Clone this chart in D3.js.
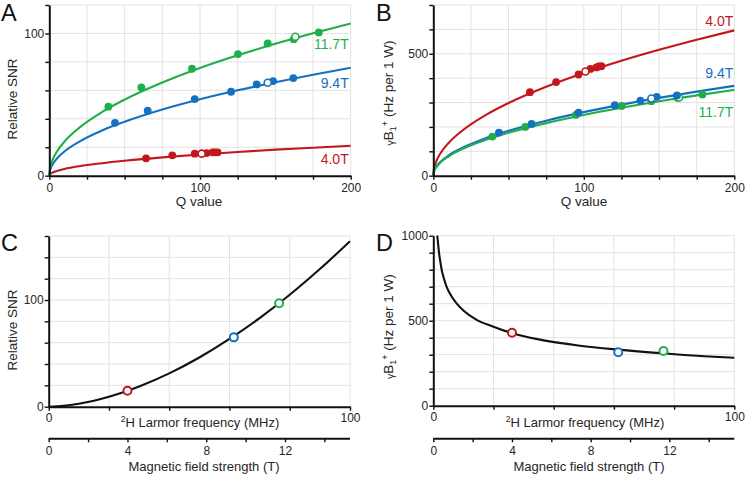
<!DOCTYPE html>
<html><head><meta charset="utf-8">
<script src="https://cdn.jsdelivr.net/npm/d3@7"></script>
<style>body{margin:0;background:#fff;overflow:hidden}</style>
</head><body><script>
// ---------------- DATA ----------------
const seriesNames = ["4.0T", "9.4T", "11.7T"];
const colors = { "4.0T": "#c4161c", "9.4T": "#1670c2", "11.7T": "#1fae4a" };

// Fit curves, panels A and B (Q value grid)
const qGrid = [0, 0.5, 1, 2, 5, 10, 20, 35, 50, 75, 100, 125, 150, 175, 200];
const snrFit40  = [0, 1.05, 1.5, 2.1, 3.3, 4.7, 6.7, 8.8, 10.5, 12.9, 14.9, 16.7, 18.3, 19.7, 21.1];
const snrFit94  = [0, 3.8, 5.4, 7.6, 12.0, 17.0, 24.0, 31.8, 37.9, 46.5, 53.7, 60.0, 65.7, 71.0, 75.9];
const snrFit117 = [0, 5.35, 7.6, 10.7, 16.9, 23.9, 33.8, 44.8, 53.5, 65.5, 75.7, 84.6, 92.7, 100.1, 107.0];
const b1Fit40  = [0, 29.8, 42.1, 59.6, 94.2, 133.3, 188.5, 249.3, 298.0, 364.9, 421.4, 471.1, 516.1, 557.5, 596.0];
const b1Fit94  = [0, 18.4, 26.1, 36.9, 58.3, 82.4, 116.5, 154.2, 184.3, 225.7, 260.6, 291.4, 319.2, 344.7, 368.5];
const b1Fit117 = [0, 17.6, 24.9, 35.2, 55.7, 78.7, 111.4, 147.3, 176.1, 215.6, 249.0, 278.4, 305.0, 329.4, 352.1];

// Measured points (filled)
const qPts40  = [64.2, 81.6, 96.5, 104.4, 108.4, 110.0, 111.7];
const snrPts40 = [12.2, 14.3, 15.5, 15.9, 16.4, 16.4, 16.4];
const b1Pts40  = [342.5, 384, 415, 438, 444, 448, 449];
const qPts94  = [43.6, 65.3, 96.5, 120.6, 137.6, 148.5, 161.9];
const snrPts94 = [37.2, 45.7, 53.9, 59.0, 64.2, 66.5, 68.6];
const b1Pts94  = [176.7, 212.3, 258.9, 289.0, 308.2, 323.3, 328.8];
const qPts117 = [39.2, 61.1, 94.7, 125.2, 144.9, 162.2, 178.8];
const snrPts117 = [48.5, 62.1, 75.2, 85.5, 93.0, 96.0, 100.7];
const b1Pts117  = [160.3, 200.0, 249.3, 286.3, 305.5, 319.2, 332.9];

// Open (reference) points
const qOpen   = [101.1, 144.9, 163.3];
const snrOpen = [15.5, 65.3, 97.7];
const b1Open  = [427, 316.4, 320.5];

// Panels C and D
const fieldT = [4.0, 9.4, 11.7];
const snrC = [15, 65, 97];
const b1D  = [429, 314, 322];
const freqGridC = [0, 5, 10, 15, 20, 25, 30, 40, 50, 60, 70, 80, 90, 100];
const snrCurveC = [0, 0.8, 2.8, 5.6, 9.3, 13.7, 18.9, 31.2, 46.1, 63.5, 83.1, 104.9, 129, 155];
const freqGridD = [1.33, 1.6, 1.9, 2.3, 2.78, 3.5, 4.4, 6, 7.8, 10, 14.4, 20, 26, 35, 48.7, 61.4, 76.5, 90, 100];
const b1CurveD  = [1000, 950, 900, 850, 800, 750, 700, 645, 600, 560, 505, 465, 428, 390, 353, 330, 308, 291, 282];

// Ticks
const qTicks = [0, 25, 50, 75, 100, 125, 150, 175, 200];
const qLabels = [0, 100, 200];
const snrTicksA = [0, 20, 40, 60, 80, 100, 120];
const snrLabelsA = [0, 100];
const b1TicksB = [0, 100, 200, 300, 400, 500, 600, 700];
const b1LabelsB = [0, 500];
const freqTicks = [0, 20, 40, 60, 80, 100];
const freqLabels = [0, 100];
const snrTicksC = [0, 20, 40, 60, 80, 100, 120, 140, 160];
const snrLabelsC = [0, 100];
const b1TicksD = [0, 100, 200, 300, 400, 500, 600, 700, 800, 900, 1000];
const b1LabelsD = [0, 500, 1000];
const fieldTicks = [0, 2, 4, 6, 8, 10, 12, 14];
const fieldLabels = [0, 4, 8, 12];
const larmorMHzPerT = 6.536; // 2H gyromagnetic ratio

// ---------------- DRAWING ----------------
const FF = '"Liberation Sans", Arial, Helvetica, sans-serif';
const TXT = "#262626";
const svg = d3.select("body").append("svg").attr("width", 750).attr("height", 477)
  .style("font-family", FF);

function styleAxis(sel) {
  sel.attr("font-family", FF).attr("font-size", 12);
  sel.select(".domain").attr("stroke", "#111").attr("stroke-width", 2);
  sel.selectAll(".tick line").attr("stroke", "#111").attr("stroke-width", 1.4);
  sel.selectAll(".tick text").attr("fill", TXT);
}

function panel(o) {
  const x = d3.scaleLinear().domain(o.xDom).range([o.x0, o.x1]);
  const y = d3.scaleLinear().domain(o.yDom).range([o.yBot, o.yTop]);
  const g = svg.append("g");
  g.append("g").selectAll("line").data(o.xTicks.filter(d => d > o.xDom[0])).join("line")
    .attr("x1", d => x(d)).attr("x2", d => x(d)).attr("y1", o.yTop).attr("y2", o.yBot)
    .attr("stroke", "#e2e2e2").attr("stroke-width", 1);
  g.append("g").selectAll("line").data(o.yTicks.filter(d => d > o.yDom[0])).join("line")
    .attr("y1", d => y(d)).attr("y2", d => y(d)).attr("x1", o.x0).attr("x2", o.x1)
    .attr("stroke", "#e2e2e2").attr("stroke-width", 1);
  const layer = g.append("g");
  g.append("g").attr("transform", `translate(0,${o.yBot})`)
    .call(d3.axisBottom(x).tickValues(o.xTicks).tickSize(4).tickSizeOuter(0).tickPadding(o.xPad)
      .tickFormat(d => o.xLabels.includes(d) ? d : ""))
    .call(styleAxis);
  g.append("g").attr("transform", `translate(${o.x0},0)`)
    .call(d3.axisLeft(y).tickValues(o.yTicks).tickSize(4).tickSizeOuter(0).tickPadding(1)
      .tickFormat(d => o.yLabels.includes(d) ? d : ""))
    .call(styleAxis);
  return { x, y, g, layer };
}

function letter(txt, x, y) {
  svg.append("text").attr("x", x).attr("y", y).attr("font-size", 23.5).attr("fill", "#111").text(txt);
}

function drawFit(p, xs, ys, color) {
  const pts = xs.map((v, i) => [v, ys[i]]);
  p.layer.append("path").datum(pts)
    .attr("d", d3.line().x(d => p.x(d[0])).y(d => p.y(d[1])).curve(d3.curveMonotoneX))
    .attr("fill", "none").attr("stroke", color).attr("stroke-width", 2.1);
}
function drawDots(p, xs, ys, color) {
  p.layer.append("g").selectAll("circle").data(xs.map((v, i) => [v, ys[i]])).join("circle")
    .attr("cx", d => p.x(d[0])).attr("cy", d => p.y(d[1])).attr("r", 3.9).attr("fill", color);
}
function drawOpen(p, xv, yv, color, r, sw) {
  p.layer.append("circle").attr("cx", xv).attr("cy", p.y(yv)).attr("r", r)
    .attr("fill", "#fff").attr("stroke", color).attr("stroke-width", sw);
}

// ---- Panel A ----
const A = panel({ x0: 49.3, x1: 350.7, yTop: 5, yBot: 175.7, xDom: [0, 200], yDom: [0, 120],
  xTicks: qTicks, xLabels: qLabels, yTicks: snrTicksA, yLabels: snrLabelsA, xPad: 3.8 });
const fitsA = [snrFit40, snrFit94, snrFit117];
const ptsQ = [qPts40, qPts94, qPts117];
const ptsA = [snrPts40, snrPts94, snrPts117];
seriesNames.forEach((s, i) => {
  drawFit(A, qGrid, fitsA[i], colors[s]);
  drawDots(A, ptsQ[i], ptsA[i], colors[s]);
  drawOpen(A, A.x(qOpen[i]), snrOpen[i], colors[s], 3.5, 1.6);
});
const labA = [164, 88.3, 49.3];
seriesNames.forEach((s, i) => {
  svg.append("text").attr("x", 348.7).attr("y", labA[i]).attr("text-anchor", "end")
    .attr("font-size", 14).attr("fill", colors[s]).text(s);
});
svg.append("text").attr("x", 199).attr("y", 205.5).attr("text-anchor", "middle")
  .attr("font-size", 13.5).attr("fill", TXT).text("Q value");
svg.append("text").attr("transform", "translate(16.8,99) rotate(-90)").attr("text-anchor", "middle")
  .attr("font-size", 13.5).attr("fill", TXT).text("Relative SNR");
letter("A", 1, 20.5);

// ---- Panel B ----
const B = panel({ x0: 433.3, x1: 734.3, yTop: 5, yBot: 175.7, xDom: [0, 200], yDom: [0, 700],
  xTicks: qTicks, xLabels: qLabels, yTicks: b1TicksB, yLabels: b1LabelsB, xPad: 3.8 });
const fitsB = [b1Fit40, b1Fit94, b1Fit117];
const ptsB = [b1Pts40, b1Pts94, b1Pts117];
[0, 1, 2].forEach(i => drawFit(B, qGrid, fitsB[i], colors[seriesNames[i]]));
[2, 1, 0].forEach(i => {
  const s = seriesNames[i];
  drawDots(B, ptsQ[i], ptsB[i], colors[s]);
  drawOpen(B, B.x(qOpen[i]), b1Open[i], colors[s], 3.5, 1.6);
});
const labB = [26, 77.7, 117.3];
seriesNames.forEach((s, i) => {
  svg.append("text").attr("x", 733.3).attr("y", labB[i]).attr("text-anchor", "end")
    .attr("font-size", 14).attr("fill", colors[s]).text(s);
});
svg.append("text").attr("x", 584).attr("y", 205.5).attr("text-anchor", "middle")
  .attr("font-size", 13.5).attr("fill", TXT).text("Q value");
function b1Label(cx, cy) {
  const t = svg.append("text").attr("transform", `translate(${cx},${cy}) rotate(-90)`)
    .attr("text-anchor", "middle").attr("font-size", 13.5).attr("fill", TXT);
  t.append("tspan").attr("font-size", 10.5).attr("dy", 1).text("γ");
  t.append("tspan").attr("dy", -1).text("B");
  t.append("tspan").attr("font-size", 9).attr("dy", 3).text("1");
  t.append("tspan").attr("font-size", 9).attr("dy", -8).text("+");
  t.append("tspan").attr("dy", 5).text(" (Hz per 1 W)");
}
b1Label(392.8, 93);
letter("B", 376, 20.5);

// ---- Panel C ----
const C = panel({ x0: 48.7, x1: 350, yTop: 236, yBot: 406.7, xDom: [0, 100], yDom: [0, 160],
  xTicks: freqTicks, xLabels: freqLabels, yTicks: snrTicksC, yLabels: snrLabelsC, xPad: 2.6 });
drawFit(C, freqGridC, snrCurveC, "#111");
const tC = d3.scaleLinear().domain([0, 100 / larmorMHzPerT]).range([48.7, 350]);
seriesNames.forEach((s, i) => drawOpen(C, tC(fieldT[i]), snrC[i], colors[s], 4, 2));

// ---- Panel D ----
const D = panel({ x0: 433.3, x1: 734.3, yTop: 235.7, yBot: 405.7, xDom: [0, 100], yDom: [0, 1000],
  xTicks: freqTicks, xLabels: freqLabels, yTicks: b1TicksD, yLabels: b1LabelsD, xPad: 2.6 });
drawFit(D, freqGridD, b1CurveD, "#111");
const tD = d3.scaleLinear().domain([0, 100 / larmorMHzPerT]).range([433.3, 734.3]);
seriesNames.forEach((s, i) => drawOpen(D, tD(fieldT[i]), b1D[i], colors[s], 4, 2));

// Secondary field axes + titles for C and D
[[tC, 200, 204, 12, 330], [tD, 585, 589, 388, 326.7]].forEach(([ts, fx, mx, lx, ly], k) => {
  svg.append("g").attr("transform", "translate(0,438.3)")
    .call(d3.axisBottom(ts).tickValues(fieldTicks).tickSize(4).tickSizeOuter(0).tickPadding(4.2)
      .tickFormat(d => fieldLabels.includes(d) ? d : ""))
    .call(styleAxis)
    .call(g => g.select(".domain").attr("d", `M${ts.range()[0]},0.5H${ts.range()[1]}`));
  const f = svg.append("text").attr("x", fx).attr("y", 427).attr("text-anchor", "middle")
    .attr("font-size", 13).attr("fill", TXT);
  f.append("tspan").attr("font-size", 8.5).attr("dy", -5).text("2");
  f.append("tspan").attr("dy", 5).text("H Larmor frequency (MHz)");
  svg.append("text").attr("x", mx).attr("y", 471).attr("text-anchor", "middle")
    .attr("font-size", 13).attr("fill", TXT).text("Magnetic field strength (T)");
  if (k === 0) {
    svg.append("text").attr("transform", `translate(${lx + 4.8},${ly}) rotate(-90)`)
      .attr("text-anchor", "middle").attr("font-size", 13.5).attr("fill", TXT).text("Relative SNR");
  } else {
    b1Label(lx + 4.8, ly);
  }
});
letter("C", 1, 250.5);
letter("D", 376, 250.5);
</script></body></html>
